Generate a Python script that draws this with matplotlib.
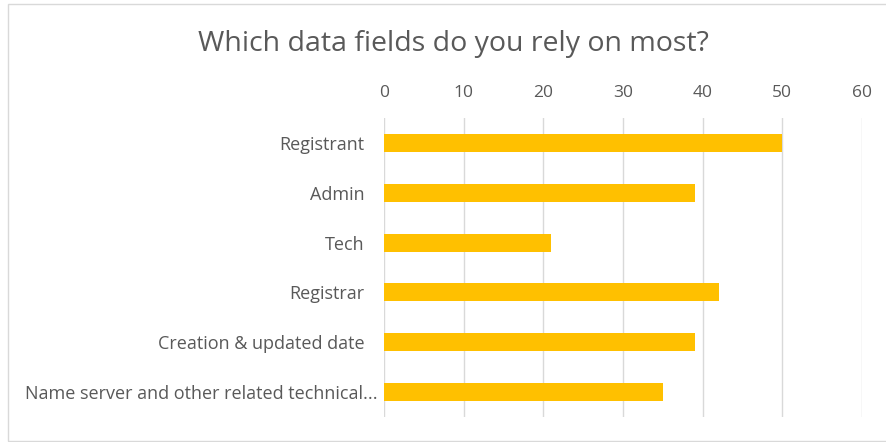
import matplotlib.pyplot as plt
from matplotlib.patches import Rectangle
from matplotlib.transforms import ScaledTranslation

categories = ["Registrant", "Admin", "Tech", "Registrar",
              "Creation & updated date",
              "Name server and other related technical..."]
values = [50, 39, 21, 42, 39, 35]
ticks = [0, 10, 20, 30, 40, 50, 60]

plt.rcParams['font.family'] = ['Open Sans', 'DejaVu Sans']
text_color = '#595959'

W, H = 886, 442
fig = plt.figure(figsize=(W / 100, H / 100), dpi=100)

# axes box in pixel coords of the reference
left, right, top, bottom = 384, 862, 118, 417
ax = fig.add_axes([left / W, 1 - bottom / H, (right - left) / W, (bottom - top) / H])

pos = list(range(len(categories)))
ax.barh(pos, values, height=0.36, color='#FFC000', zorder=3)
ax.set_ylim(len(categories) - 0.5, -0.5)
ax.set_xlim(0, 60)
ax.set_xticks(ticks)
ax.set_yticks(pos)
ax.set_yticklabels(categories)

ax.xaxis.tick_top()
ax.tick_params(axis='x', length=0, pad=12, labelsize=12.5, colors=text_color)
ax.tick_params(axis='y', length=0, pad=14, labelsize=13, colors=text_color)
ax.grid(axis='x', color='#D9D9D9', linewidth=1, zorder=0)
for s in ax.spines.values():
    s.set_visible(False)

# the truncated long label sits closer to the axis, like Excel does it
long_lab = ax.get_yticklabels()[-1]
long_lab.set_transform(long_lab.get_transform() + ScaledTranslation(0.13, 0, fig.dpi_scale_trans))

fig.text(453 / W, 1 - 44 / H, "Which data fields do you rely on most?",
         ha='center', va='center', fontsize=20.5, color=text_color)

# outer chart frame
fig.patches.append(Rectangle((8 / W, 1 - 441 / H), 900 / W, 437 / H,
                             transform=fig.transFigure, fill=False,
                             edgecolor='#D9D9D9', linewidth=1))

fig.savefig('out.png', dpi=100)
